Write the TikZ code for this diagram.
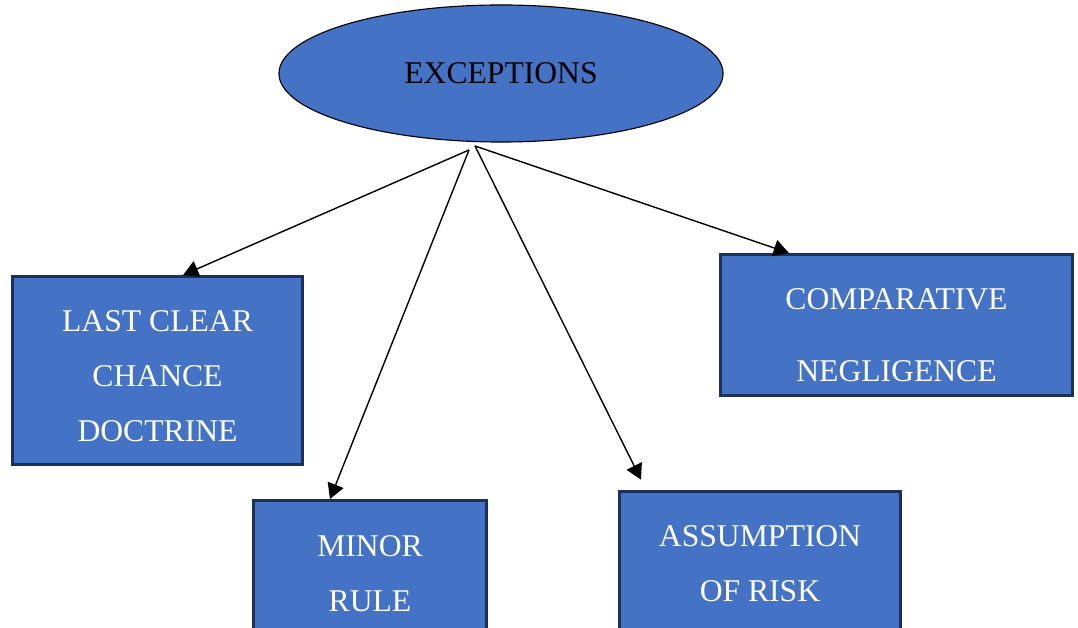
\documentclass[tikz,border=0pt]{standalone}
\usepackage{fontspec}
\setmainfont{Liberation Serif}
\usepackage{tikz}
\usetikzlibrary{shapes.geometric,arrows.meta}
\definecolor{office}{RGB}{68,114,196}
\definecolor{navy}{RGB}{28,48,88}
\newcommand\lift[1]{\rule{0pt}{#1}}
\tikzset{
  topic/.style={
    shape = ellipse,
    draw = black,
    line width = 0.8pt,
    fill = office,
    inner sep = 0pt,
    minimum width = 11.1cm,
    minimum height = 3.425cm,
    font = \fontsize{22.5}{39}\selectfont
  },
}
\tikzset{
  case/.style={
    shape = rectangle,
    draw = navy,
    line width = 2.1pt,
    fill = office,
    text = white,
    align = center,
    inner sep = 0pt,
    font = \fontsize{22.5}{39}\selectfont
  },
  link/.style={
    line width = 1pt,
    -{Triangle[length=0.38cm, width=0.42cm]}
  }
}
\begin{document}
\begin{tikzpicture}[x=0.025cm, y=-0.025cm]
        \useasboundingbox (0,0) rectangle (1078,628);
        \clip (0,0) rectangle (1078,628);

        \node[topic] (exc) at (501,73.5) {EXCEPTIONS};

        \node[case, minimum width=7.25cm, minimum height=4.7cm] (last) at (157.5,370.5) {\lift{23.4pt}LAST CLEAR\\CHANCE\\DOCTRINE};
        \node[case, minimum width=5.825cm, minimum height=3.575cm] (minor) at (370,572) {\lift{17.7pt}MINOR\\RULE};
        \node[case, minimum width=7.025cm, minimum height=3.525cm] (risk) at (760,562) {\lift{17.7pt}ASSUMPTION\\OF RISK};
        \node[case, minimum width=8.8cm, minimum height=3.525cm,
              font=\fontsize{22.5}{51}\selectfont] (comp) at (896.5,325) {\lift{29.1pt}COMPARATIVE\\NEGLIGENCE};

        % start and end points of the arrows
        \coordinate (s1) at (469,150);
        \coordinate (s2) at (475,146);
        \coordinate (t1) at ([xshift=0.64cm]last.north);
        \coordinate (t2) at ([xshift=-1cm]minor.north);
        \coordinate (t3) at ([xshift=-2.975cm, yshift=0.26cm]risk.north);
        \coordinate (t4) at ([xshift=-2.69cm]comp.north);

        \draw[link] (s1) -- (t1);
        \draw[link] (s1) -- (t2);
        \draw[link] (s2) -- (t3);
        \draw[link] (s2) -- (t4);
    \end{tikzpicture}
\end{document}
